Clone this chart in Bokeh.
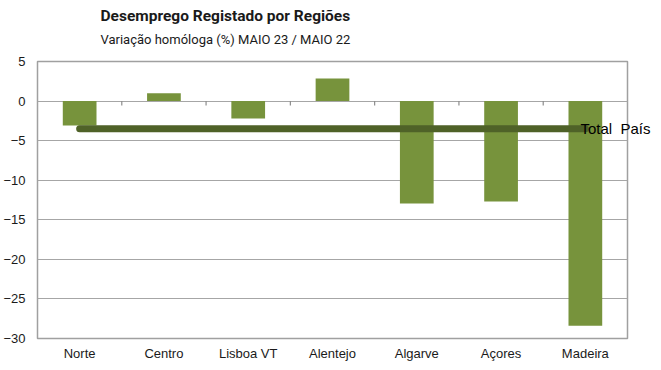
from bokeh.plotting import figure
from bokeh.models import Title, FactorRange, Range1d, FixedTicker, LinearAxis
from bokeh.embed import file_html
from bokeh.resources import INLINE

categories = ["Norte", "Centro", "Lisboa VT", "Alentejo", "Algarve", "Açores", "Madeira"]
values = [-3.1, 1.0, -2.2, 2.85, -12.95, -12.7, -28.4]
total_pais = -3.5
total_label = "Total\u00a0 País"
y_ticks = [5, 0, -5, -10, -15, -20, -25, -30]
title_text = "Desemprego Registado por Regiões"
subtitle_text = "Variação homóloga (%) MAIO 23 / MAIO 22"

TITLE_FONT = "Roboto"

p = figure(x_range=FactorRange(*categories), y_range=Range1d(-30, 5),
           frame_width=590, frame_height=277,
           min_border_left=29, min_border_right=26, min_border_top=0, min_border_bottom=20,
           output_backend="svg", toolbar_location=None, title=None)

# spacer between subtitle and plot area
p.add_layout(Title(text=" ", text_font_size="1px", standoff=7), "above")
p.add_layout(Title(text=subtitle_text, text_font=TITLE_FONT, text_font_size="13px",
                   text_font_style="normal", text_color="#1a1a1a", align="left", offset=63,
                   standoff=10), "above")
p.add_layout(Title(text=title_text, text_font=TITLE_FONT, text_font_size="15.5px",
                   text_font_style="bold", text_color="#1a1a1a", align="left", offset=63,
                   standoff=-1), "above")
# spacer above the title
p.add_layout(Title(text=" ", text_font_size="1px", standoff=2), "above")

p.vbar(x=categories, top=values, bottom=0, width=0.4, fill_color="#77933c", line_color=None)

# category boundary ticks on the zero line
n = len(categories)
bx = list(range(1, n))
p.segment(x0=bx, x1=bx, y0=[0] * len(bx), y1=[-0.55] * len(bx), line_color="#8c8c8c", line_width=1.2)

p.line(x=categories, y=[total_pais] * n, line_color="#4f6228", line_width=7, line_cap="round")

# label for the national total, drawn as a right-side axis label
tot_axis = LinearAxis(ticker=FixedTicker(ticks=[total_pais]),
                      major_label_overrides={total_pais: total_label})
tot_axis.axis_line_color = None
tot_axis.major_tick_line_color = None
tot_axis.minor_tick_line_color = None
tot_axis.major_label_text_font = "Liberation Sans"
tot_axis.major_label_text_font_size = "15px"
tot_axis.major_label_text_color = "#000000"
tot_axis.major_label_standoff = -53
p.add_layout(tot_axis, "right")

p.yaxis[0].ticker = FixedTicker(ticks=y_ticks)
p.ygrid.ticker = FixedTicker(ticks=y_ticks)
p.ygrid.grid_line_color = "#a6a6a6"
p.ygrid.grid_line_width = 1.2
p.xgrid.grid_line_color = None
for ax in (p.xaxis[0], p.yaxis[0]):
    ax.axis_line_color = None
    ax.major_tick_line_color = None
    ax.minor_tick_line_color = None
    ax.major_label_text_font = "Liberation Sans"
    ax.major_label_text_font_size = "13px"
    ax.major_label_text_color = "#1a1a1a"
p.yaxis[0].major_label_standoff = 6
p.xaxis[0].major_label_standoff = 1
p.outline_line_color = "#a0a0a0"
p.outline_line_width = 1.5
p.background_fill_color = "white"
p.border_fill_color = "white"

open("out.html", "w").write(file_html(p, INLINE))
